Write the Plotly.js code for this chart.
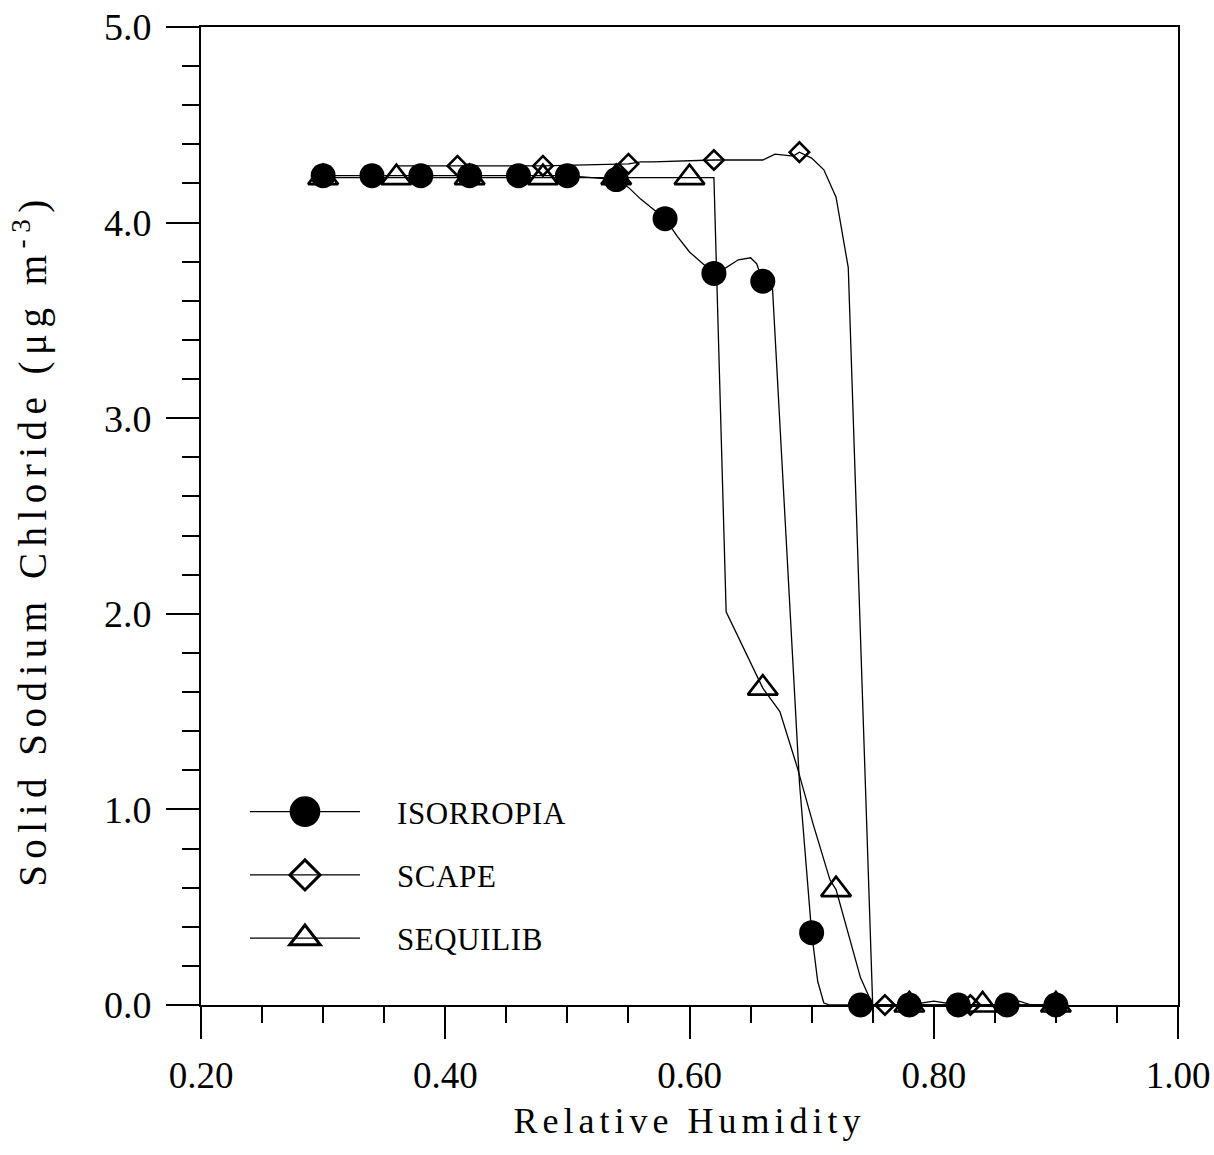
<!DOCTYPE html>
<html>
<head>
<meta charset="utf-8">
<script src="https://cdn.plot.ly/plotly-3.0.1.min.js"></script>
<style>
  body { margin: 0; background: #fff; }
  #chart { width: 1214px; height: 1155px; }
  text.xtitle { letter-spacing: 5px; }
  text.ytitle { letter-spacing: 6.5px; }
  text.legendtext { letter-spacing: 0.6px; }
</style>
</head>
<body>
<div id="chart"></div>
<script>
// ---- data ----
// ISORROPIA curve and its marked points
const isoX = [0.30, 0.34, 0.38, 0.42, 0.46, 0.50, 0.54, 0.55, 0.56, 0.58, 0.59, 0.60, 0.62, 0.63, 0.64, 0.65, 0.655, 0.66, 0.668, 0.68, 0.69, 0.70, 0.705, 0.71, 0.715, 0.74, 0.78, 0.80, 0.82, 0.86, 0.87, 0.88, 0.90];
const isoY = [4.24, 4.24, 4.24, 4.24, 4.24, 4.24, 4.22, 4.18, 4.12, 4.02, 3.93, 3.85, 3.74, 3.77, 3.81, 3.82, 3.79, 3.70, 3.66, 2.28, 1.14, 0.37, 0.12, 0.01, 0.00, 0.00, 0.00, 0.02, 0.00, 0.00, 0.02, 0.00, 0.00];
const isoMarkX = [0.30, 0.34, 0.38, 0.42, 0.46, 0.50, 0.54, 0.58, 0.62, 0.66, 0.70, 0.74, 0.78, 0.82, 0.86, 0.90];

// SCAPE curve and its marked points
const scapeX = [0.36, 0.41, 0.48, 0.55, 0.56, 0.57, 0.62, 0.66, 0.67, 0.685, 0.69, 0.70, 0.71, 0.72, 0.73, 0.75, 0.76, 0.83, 0.90];
const scapeY = [4.29, 4.29, 4.29, 4.30, 4.31, 4.31, 4.32, 4.32, 4.35, 4.34, 4.36, 4.33, 4.27, 4.13, 3.77, 0.00, 0.00, 0.00, 0.00];
const scapeMarkX = [0.41, 0.48, 0.55, 0.62, 0.69, 0.76, 0.83, 0.90];

// SEQUILIB curve and its marked points
const seqX = [0.30, 0.36, 0.42, 0.48, 0.54, 0.60, 0.62, 0.63, 0.64, 0.65, 0.66, 0.674, 0.688, 0.701, 0.715, 0.72, 0.73, 0.74, 0.75, 0.78, 0.84, 0.90];
const seqY = [4.23, 4.23, 4.23, 4.23, 4.23, 4.23, 4.23, 2.01, 1.88, 1.75, 1.62, 1.50, 1.22, 0.93, 0.64, 0.59, 0.36, 0.14, 0.00, 0.00, 0.00, 0.00];
const seqMarkX = [0.30, 0.36, 0.42, 0.48, 0.54, 0.60, 0.66, 0.72, 0.78, 0.84, 0.90];

const seriesNames = ['ISORROPIA', 'SCAPE', 'SEQUILIB'];
const xTickVals = [0.20, 0.40, 0.60, 0.80, 1.00];
const yTickVals = [0.0, 1.0, 2.0, 3.0, 4.0, 5.0];

// ---- build traces ----
const FONT = "'Liberation Serif', serif";
function sizesFor(xs, marks, s) {
  return xs.map(x => marks.some(m => Math.abs(m - x) < 1e-9) ? s : 0);
}

const traces = [
  {
    x: seqX, y: seqY, name: seriesNames[2], type: 'scatter', mode: 'lines+markers',
    legendgroup: 'c', legendrank: 3, cliponaxis: false,
    line: { color: '#000', width: 1.3 },
    marker: { symbol: 'triangle-up-open', opacity: 1, size: sizesFor(seqX, seqMarkX, 26), color: '#000', line: { color: '#000', width: 2.6 } }
  },
  {
    x: scapeX, y: scapeY, name: seriesNames[1], type: 'scatter', mode: 'lines+markers',
    legendgroup: 'b', legendrank: 2, cliponaxis: false,
    line: { color: '#000', width: 1.3 },
    marker: { symbol: 'diamond-open', opacity: 1, size: sizesFor(scapeX, scapeMarkX, 15), color: '#000', line: { color: '#000', width: 2.6 } }
  },
  {
    x: isoX, y: isoY, name: seriesNames[0], type: 'scatter', mode: 'lines+markers',
    legendgroup: 'a', legendrank: 1, cliponaxis: false,
    line: { color: '#000', width: 1.3 },
    marker: { symbol: 'circle', opacity: 1, size: sizesFor(isoX, isoMarkX, 25), color: '#000', line: { color: '#000', width: 0 } }
  }
];

const layout = {
  width: 1214, height: 1155,
  margin: { l: 201, r: 36, t: 27, b: 150 },
  paper_bgcolor: '#fff', plot_bgcolor: '#fff',
  font: { family: FONT, color: '#000' },
  showlegend: true,
  legend: {
    x: 0.045, y: 0.225, xanchor: 'left', yanchor: 'top',
    bgcolor: 'rgba(0,0,0,0)', borderwidth: 0,
    font: { family: FONT, size: 31, color: '#000' },
    itemwidth: 110, tracegroupgap: 20, itemsizing: 'constant'
  },
  xaxis: {
    range: [0.2, 1.0], autorange: false,
    tickvals: xTickVals, tickformat: '.2f',
    ticks: 'outside', ticklen: 32, tickwidth: 2, tickcolor: '#000',
    minor: { dtick: 0.05, tick0: 0.2, ticks: 'outside', ticklen: 16, tickwidth: 2, tickcolor: '#000', showgrid: false },
    showline: true, linewidth: 2, linecolor: '#000', mirror: true,
    showgrid: false, zeroline: false,
    tickfont: { family: FONT, size: 37, color: '#000' },
    ticklabelstandoff: 5,
    title: { text: 'Relative Humidity', font: { family: FONT, size: 36, color: '#000' }, standoff: 12 }
  },
  yaxis: {
    range: [0, 5], autorange: false,
    tickvals: yTickVals, tickformat: '.1f',
    ticks: 'outside', ticklen: 33, tickwidth: 2, tickcolor: '#000',
    minor: { dtick: 0.2, tick0: 0, ticks: 'outside', ticklen: 17, tickwidth: 2, tickcolor: '#000', showgrid: false },
    showline: true, linewidth: 2, linecolor: '#000', mirror: true,
    showgrid: false, zeroline: false,
    tickfont: { family: FONT, size: 38, color: '#000' },
    ticklabelstandoff: 7,
    title: { text: 'Solid Sodium Chloride (μg m<sup>-3</sup>)', font: { family: FONT, size: 39, color: '#000' }, standoff: 45 }
  }
};

// desired on-screen widths of the legend symbols (px)
const legendSymbolWidth = { 'ISORROPIA': 37, 'SCAPE': 35, 'SEQUILIB': 36 };

function finishLegendAndTitle(gd) {
  // let the legend text run past the auto-sized legend box
  gd.querySelectorAll('.legend, .legend [clip-path]').forEach(e => e.removeAttribute('clip-path'));
  gd.querySelectorAll('.legend g.traces').forEach(g => {
    const dat = g.__data__;
    const name = dat && dat[0] && dat[0].trace ? dat[0].trace.name : null;
    const want = legendSymbolWidth[name];
    if (!want) return;
    g.querySelectorAll('path.scatterpts').forEach(p => {
      const bb = p.getBBox();
      if (!bb.width) return;
      const k = want / (bb.width + 2.5);
      const tr = p.getAttribute('transform') || '';
      p.setAttribute('transform', tr + ' scale(' + k.toFixed(3) + ')');
      p.style.vectorEffect = 'non-scaling-stroke';
      p.style.opacity = 1;
      if (name !== 'ISORROPIA') p.style.strokeWidth = '3px';
    });
    g.querySelectorAll('.legendlines path').forEach(p => { p.style.strokeWidth = '1.3px'; });
    g.querySelectorAll('text.legendtext').forEach(t => {
      const x = parseFloat(t.getAttribute('x') || '0');
      t.setAttribute('x', x + 32);
    });
  });
  // the reference's y title sits slightly below the plot centre
  const yt = gd.querySelector('text.ytitle');
  if (yt) {
    const tr = yt.getAttribute('transform') || '';
    yt.setAttribute('transform', 'translate(0,24) ' + tr);
  }
}

const gd = document.getElementById('chart');
Plotly.newPlot(gd, traces, layout, { staticPlot: true, displayModeBar: false })
  .then(() => finishLegendAndTitle(gd));
</script>
</body>
</html>
